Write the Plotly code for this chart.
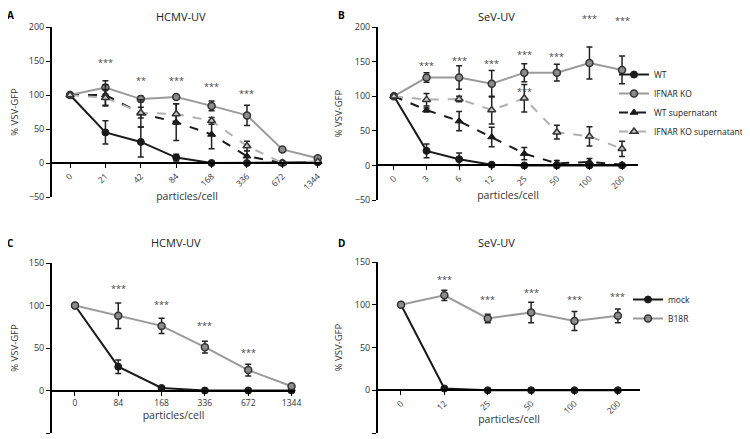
import plotly.graph_objects as go

# ---------------- data ----------------
# Panel A  (HCMV-UV)
a_x = ["0", "21", "42", "84", "168", "336", "672", "1344"]
a_wt = [100, 45, 31, 8, 0, 0, 0, 1]
a_wt_err = [0, 17, 22, 5, 1, 0, 0, 0]
a_ko = [100, 111, 94, 97, 84, 70, 20, 7]
a_ko_err = [0, 10, 4, 3, 7, 15, 2, 2]
a_wts = [100, 100, 73, 60, 42, 10, 0, 2]
a_wts_err = [0, 15, 20, 27, 21, 8, 1, 1]
a_kos = [100, 96, 74, 72, 62, 25, 0, 2]
a_kos_err = [0, 12, 8, 15, 5, 7, 1, 1]
a_star_x = ["21", "42", "84", "168", "336"]
a_star_y = [148, 122, 122, 113, 102]
a_star_t = ["***", "**", "***", "***", "***"]

# Panel B  (SeV-UV)
b_x = ["0", "3", "6", "12", "25", "50", "100", "200"]
b_wt = [100, 21, 9, 1, 0, 0, 0, 0]
b_wt_err = [0, 10, 9, 1, 0, 0, 0, 0]
b_ko = [100, 127, 127, 118, 134, 134, 148, 138]
b_ko_err = [0, 7, 17, 19, 13, 12, 23, 20]
b_wts = [100, 80, 64, 41, 17, 3, 5, 1]
b_wts_err = [0, 3, 14, 14, 9, 4, 5, 1]
b_kos = [100, 95, 96, 80, 97, 48, 42, 24]
b_kos_err = [0, 9, 4, 20, 20, 10, 14, 11]
b_star_x = ["3", "6", "12", "25", "25", "50", "100", "200"]
b_star_y = [145, 151, 147, 160, 107, 157, 213, 210]

# Panel C  (HCMV-UV, mock vs B18R)
c_x = ["0", "84", "168", "336", "672", "1344"]
c_mock = [100, 28, 3, 0, 0, 0]
c_mock_err = [0, 8, 1, 0, 0, 0]
c_b18 = [100, 88, 76, 51, 24, 5]
c_b18_err = [0, 15, 9, 7, 7, 1]
c_star_x = ["84", "168", "336", "672"]
c_star_y = [120, 101, 76, 45]

# Panel D  (SeV-UV, mock vs B18R)
d_x = ["0", "12", "25", "50", "100", "200"]
d_mock = [100, 2, 0, 0, 0, 0]
d_mock_err = [0, 1, 0, 0, 0, 0]
d_b18 = [100, 111, 84, 91, 81, 87]
d_b18_err = [0, 6, 5, 12, 11, 8]
d_star_x = ["12", "25", "50", "100", "200"]
d_star_y = [129, 106, 114, 106, 110]

# ---------------- layout helpers ----------------
OFF = 8                 # default page body margin
W, H = 750 - OFF, 439 - OFF
FONT = "Open Sans"
GRAY = "#9a9a9a"
DARK = "#1a1a1a"


def px_x(p):
    return (p - OFF) / W


def px_y(p):
    return 1 - (p - OFF) / H


fig = go.Figure()


def add_series(x, y, err, xa, ya, name, kind, legend, show=True):
    if kind == "wt":
        line = dict(color=DARK, width=2)
        marker = dict(symbol="circle", size=7, color=DARK, line=dict(color=DARK, width=1))
    elif kind == "ko":
        line = dict(color=GRAY, width=2)
        marker = dict(symbol="circle", size=7, color="#8c8c8c", line=dict(color="#333333", width=1.5))
    elif kind == "wts":
        line = dict(color=DARK, width=2, dash="dash")
        marker = dict(symbol="triangle-up", size=7, color=DARK, line=dict(color=DARK, width=1))
    else:
        line = dict(color="#b0b0b0", width=2, dash="dash")
        marker = dict(symbol="triangle-up", size=7, color="#c8c8c8", line=dict(color="#333333", width=1.5))
    fig.add_trace(go.Scatter(
        x=x, y=y, xaxis=xa, yaxis=ya, name=name, mode="lines+markers",
        line=line, marker=marker, cliponaxis=False,
        error_y=dict(type="data", array=err, visible=True, color="#222222", thickness=1.5, width=3),
        legend=legend, showlegend=show,
    ))


add_series(a_x, a_wt, a_wt_err, "x", "y", "WT", "wt", "legend")
add_series(a_x, a_ko, a_ko_err, "x", "y", "IFNAR KO", "ko", "legend")
add_series(a_x, a_wts, a_wts_err, "x", "y", "WT supernatant", "wts", "legend")
add_series(a_x, a_kos, a_kos_err, "x", "y", "IFNAR KO supernatant", "kos", "legend")

add_series(b_x, b_wt, b_wt_err, "x2", "y2", "WT", "wt", "legend", False)
add_series(b_x, b_ko, b_ko_err, "x2", "y2", "IFNAR KO", "ko", "legend", False)
add_series(b_x, b_wts, b_wts_err, "x2", "y2", "WT supernatant", "wts", "legend", False)
add_series(b_x, b_kos, b_kos_err, "x2", "y2", "IFNAR KO supernatant", "kos", "legend", False)

add_series(c_x, c_mock, c_mock_err, "x3", "y3", "mock", "wt", "legend2", False)
add_series(c_x, c_b18, c_b18_err, "x3", "y3", "B18R", "ko", "legend2", False)
add_series(d_x, d_mock, d_mock_err, "x4", "y4", "mock", "wt", "legend2")
add_series(d_x, d_b18, d_b18_err, "x4", "y4", "B18R", "ko", "legend2")

panels = [
    dict(ax="x", ay="y", x0=52, x1=322, top=27, bot=197, yr=[-50, 200], xr=[-0.51, 7.12], ang=-45),
    dict(ax="x2", ay="y2", x0=378, x1=638, top=27, bot=200, yr=[-50, 200], xr=[-0.49, 7.49], ang=-45),
    dict(ax="x3", ay="y3", x0=52, x1=295, top=263, bot=433, yr=[-50, 150], xr=[-0.53, 5.08], ang=0),
    dict(ax="x4", ay="y4", x0=378, x1=640, top=262, bot=433, yr=[-50, 150], xr=[-0.53, 5.51], ang=-45),
]

layout = {}
for p in panels:
    xd = [px_x(p["x0"]), px_x(p["x1"])]
    yd = [px_y(p["bot"]), px_y(p["top"])]
    zero_pos = yd[0] + (0 - p["yr"][0]) / (p["yr"][1] - p["yr"][0]) * (yd[1] - yd[0])
    xkey = "xaxis" + p["ax"][1:]
    ykey = "yaxis" + p["ay"][1:]
    layout[xkey] = dict(
        domain=xd, anchor="free", position=zero_pos, type="category", range=p["xr"],
        showline=True, linecolor="#000000", linewidth=2, ticks="outside", ticklen=4,
        tickwidth=1.2, tickcolor="#000000", showgrid=False, zeroline=False,
        tickangle=p["ang"], automargin=False,
        tickfont=dict(family=FONT, size=8.5, color="#333333"),
        title=dict(text="particles/cell", font=dict(family=FONT, size=10.5, color="#333333"),
                   standoff=0),
    )
    layout[ykey] = dict(
        domain=yd, anchor=p["ax"], range=p["yr"], dtick=50, automargin=False,
        showline=True, linecolor="#000000", linewidth=2, ticks="outside", ticklen=4,
        tickwidth=1.2, tickcolor="#000000", showgrid=False, zeroline=False,
        tickfont=dict(family=FONT, size=9, color="#333333"),
        title=dict(text="% VSV-GFP", font=dict(family=FONT, size=9.5, color="#333333"),
                   standoff=10),
    )

annotations = []
for p, cats, xs, ys, ts in [
    (panels[0], a_x, a_star_x, a_star_y, a_star_t),
    (panels[1], b_x, b_star_x, b_star_y, ["***"] * len(b_star_x)),
    (panels[2], c_x, c_star_x, c_star_y, ["***"] * len(c_star_x)),
    (panels[3], d_x, d_star_x, d_star_y, ["***"] * len(d_star_x)),
]:
    y0, y1 = p["yr"]
    for xv, yv, t in zip(xs, ys, ts):
        if y0 <= yv <= y1:
            yval, yref = yv, p["ay"]
        else:
            yval, yref = (yv - y0) / (y1 - y0), p["ay"] + " domain"
        annotations.append(dict(x=cats.index(xv), y=yval,
                                xref=p["ax"], yref=yref, text=t, showarrow=False,
                                xanchor="center", yanchor="middle",
                                font=dict(family=FONT, size=9, color="#444444")))

for txt, xp, yp in [("HCMV-UV", 181, 16), ("SeV-UV", 496, 16), ("HCMV-UV", 176, 242), ("SeV-UV", 496, 243)]:
    annotations.append(dict(x=px_x(xp), y=px_y(yp), xref="paper", yref="paper", text=txt,
                            xanchor="center", yanchor="middle",
                            showarrow=False, font=dict(family=FONT, size=11, color="#222222")))
for txt, xp, yp in [("A", 10, 15), ("B", 341, 15), ("C", 10, 243), ("D", 341, 243)]:
    annotations.append(dict(x=px_x(xp), y=px_y(yp), xref="paper", yref="paper", text="<b>" + txt + "</b>",
                            xanchor="center", yanchor="middle",
                            showarrow=False, font=dict(family=FONT, size=10, color="#000000")))

fig.update_layout(
    width=W, height=H, margin=dict(l=0, r=0, t=0, b=0, autoexpand=False),
    plot_bgcolor="white", paper_bgcolor="white",
    font=dict(family=FONT, color="#222222"),
    annotations=annotations,
    legend=dict(x=px_x(614), y=px_y(60), xanchor="left", yanchor="top",
                font=dict(family=FONT, size=8.5, color="#222222"), itemwidth=30,
                tracegroupgap=0, bgcolor="rgba(0,0,0,0)"),
    legend2=dict(x=px_x(628), y=px_y(285), xanchor="left", yanchor="top",
                 font=dict(family=FONT, size=8.5, color="#222222"), itemwidth=30,
                 tracegroupgap=0, bgcolor="rgba(0,0,0,0)"),
    **layout,
)

fig.write_html("out.html")
